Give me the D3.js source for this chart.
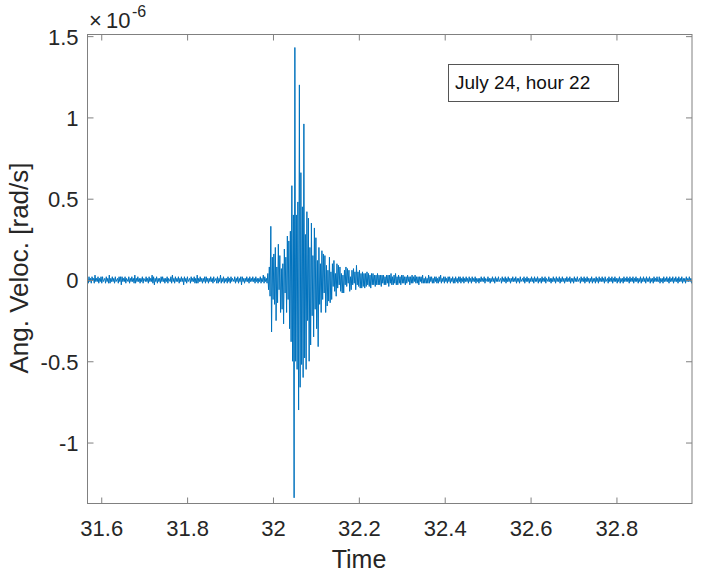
<!DOCTYPE html>
<html><head><meta charset="utf-8">
<script src="https://cdn.jsdelivr.net/npm/d3@7"></script>
<style>
body{margin:0;background:#fff}
svg text{font-family:"Liberation Sans",Arial,Helvetica,sans-serif;fill:#262626}
</style>
</head><body>
<svg id="chart" width="709" height="577"></svg>
<script>
// ---- data ----
const startTime = 31.568;          // time of first sample
const sampleInterval = 0.00175;    // time step between samples
// angular velocity samples, in units of 1e-8 rad/s
const preEvent = [
 1,-2,2,-1,1,-2,2,0,1,-2,3,-1,1,-1,2,-2,1,-1,2,-2,
 2,-1,0,1,-2,2,-1,1,-2,3,-2,1,-1,2,-1,1,-2,2,-1,0,
 1,-2,2,-1,2,-3,2,-1,1,-1,2,-2,1,0,-1,2,-2,1,-1,2,
 -1,1,-2,3,-2,1,-1,2,-1,1,-2,1,-1,2,-2,1,0,-1,2,-1,
 1,-2,2,-1,1,-1,3,-2,2,-3,1,-1,2,-2,1,-1,1,-2,2,-1,
 2,-1,1,-2,1,-1,2,-2,1,0,-1,2,-2,3,-1,1,-2,2,-1,1,
 -1,2,-2,1,-1,2,-1,1,-3,2,-1,1,-2,2,-1,0,1,-2,2,-1,
 1,-1,2,-2,1,-2,3,-2,1,-1,2,-1,1,-2,1,-1,2,-2,2,-1,
 1,-2,1,-1,2,-1,1,-2,2,-1,0,1,-2,2,-2,1,-1,3,-2,1,
 -1,2,-2,1,-1,1,-2,2,-1,1,-2,2,-1,1,0,-1,2,-2,1,-1,
 2,-2,1,-1,2,-3,2,-1,1,-2,1,-1,2,-1,1,-2,2,-1,1,-1,
 2,-1,1,-2,2,-1,1,-2,1,-1,2,-2,1,-1,3,-2,2,-1,1,-2
];
const eventPart = [
 4,-6,8,-10,33,-32,14,-12,16,-15,
 20,-25,8,-14,22,-6,15,-20,7,-18,
 10,-27,19,-8,14,-20,27,-12,24,-30,
 30,-38,58,-50,40,-134,143,-50,40,-55,
 48,-80,120,-66,66,-52,45,-60,96,-48,
 28,-55,42,-25,38,-50,20,-40,35,-22,
 15,-35,32,-18,26,-30,12,-41,20,-15,
 10,-20,18,-12,16,-8,15,-20,9,-16,
 6,-13,14,-14,5,-12,10,-4,12,-7,
 4,-10,10,-5,9,-3,8,-7,4,-8,
 3,-8,6,-3,8,-4,7,-2,6,-7,
 2,-6,6,-3,7,-2,5,-6,9,-3,
 5,-4,6,-5,4,-5,5,-4,4,-5,
 4,-4,5,-3,4,-4,3,-5,4,-3,
 4,-3,3,-4,3,-3,4,-3,3,-3,
 3,-4,3,-2,3,-3,2,-3,3,-2
];
const coda = [
 3,-4,3,-2,4,-3,2,-3,3,-2,4,-3,2,-3,3,-2,2,-3,3,-2,
 3,-2,2,-3,2,-2,3,-1,2,-3,2,-2,3,-2,2,-1,3,-2,2,-2,
 2,-3,2,-1,2,-2,3,-2,1,-2,2,-2,1,-2,3,-2,2,-1,2,-2,
 1,-2,2,-1,2,-2,1,-2,2,-1,3,-2,1,-1,2,-2,2,-1,1,-2,
 2,-1,2,-2,1,-1,2,-2,1,-2,2,-1,1,-2,2,-1,2,-2,1,-1,
 2,-2,1,-1,2,-1,1,-2,2,-1,1,-2,2,-1,1,-1,2,-2,1,-1
];
const postEvent = [
 1,-2,1,-1,2,-1,1,-1,2,-2,1,0,-1,2,-1,1,-2,1,-1,2,
 -1,1,-2,2,-1,1,-1,2,-1,0,1,-2,2,-1,1,-1,2,-2,1,-1,
 2,-1,1,-2,1,-1,2,-1,1,-1,2,-2,1,-1,1,-2,2,-1,0,1,
 -1,2,-2,1,-1,2,-1,1,-2,1,-1,2,-1,1,-2,2,-1,1,-1,2,
 -2,1,-1,1,-2,2,-1,1,-1,2,-2,1,0,-1,2,-1,1,-2,1,-1,
 2,-1,1,-2,2,-1,1,-1,2,-2,1,-1,2,-1,1,-2,1,-1,2,-1,
 1,-1,2,-2,1,-1,1,-2,2,-1,1,-1,2,-1,0,1,-2,2,-1,1,
 -1,2,-2,1,-1,2,-1,1,-2,1,-1,2,-2,1,-1,1,-2,2,-1,1,
 -2,2,-1,1,-1,2,-1,1,-2,2,-1,0,1,-2,2,-1,1,-1,2,-2,
 1,-1,2,-1,1,-2,1,-1,2,-2,1,-1,1,-2,2,-1,1,-1,2,-1,
 1,-2,2,-1,1,-1,2,-2,1,-1,2,-1,1,-2,1,-1,2,-2,1,-1,
 2,-1,1,-2,2,-1,1,-1,2,-2,1,-1,1,-2,2,-1,1,-1,2,-1,
 -1,2,-2,1,-1,1,-2,2,-1,1,-1,2,-1,1,-2,2,-1,1,-1,2,
 -2,1,-1,2,-1,1,-2,2,-1,1,-1,2,-2,1,-1,1,-2,2,-1,1,
 -1,2,-1,1,-2,1
];
const valueUnit = 1e-8;
const xTicks = [31.6, 31.8, 32, 32.2, 32.4, 32.6, 32.8];
const yTicks = [-1, -0.5, 0, 0.5, 1, 1.5];   // in 1e-6 rad/s
const xDomain = [31.568, 32.976];
const yDomain = [-1.375, 1.51];              // in 1e-6 rad/s
const xLabel = "Time";
const yLabel = "Ang. Veloc. [rad/s]";
const annotationText = "July 24, hour 22";

// ---- build series ----
const samples = [...preEvent, ...eventPart, ...coda, ...postEvent];
const series = samples.map((v, i) => ({t: startTime + i * sampleInterval, v: v * valueUnit / 1e-6}));

// ---- layout ----
const L = 87.5, R = 692, T = 34.5, B = 503.5;
const svg = d3.select("#chart");

const x = d3.scaleLinear().domain(xDomain).range([L, R]);
const y = d3.scaleLinear().domain(yDomain).range([B, T]);

svg.append("defs").append("clipPath").attr("id", "clip")
  .append("rect").attr("x", L).attr("y", T).attr("width", R - L).attr("height", B - T);

// signal
svg.append("path")
  .datum(series)
  .attr("clip-path", "url(#clip)")
  .attr("fill", "none")
  .attr("stroke", "#0072BD")
  .attr("stroke-width", 1)
  .attr("stroke-linejoin", "miter")
  .attr("d", d3.line().x(d => x(d.t)).y(d => y(d.v)));

const axisColor = "#808080";
const fmt = d => String(d);

// bottom axis
const gB = svg.append("g").attr("transform", `translate(0,${B})`)
  .call(d3.axisBottom(x).tickValues(xTicks).tickSizeInner(-6).tickSizeOuter(0).tickPadding(0).tickFormat(fmt));
gB.selectAll("text").attr("y", 32).attr("dy", 0).style("font-size", "22px");
// top axis
const gT = svg.append("g").attr("transform", `translate(0,${T})`)
  .call(d3.axisTop(x).tickValues(xTicks).tickSizeInner(-6).tickSizeOuter(0).tickFormat(""));
// left axis
const gL = svg.append("g").attr("transform", `translate(${L},0)`)
  .call(d3.axisLeft(y).tickValues(yTicks).tickSizeInner(-6).tickSizeOuter(0).tickPadding(0).tickFormat(fmt));
gL.selectAll("text").attr("x", -9).attr("dy", "0.36em").style("font-size", "22px");
// right axis
const gR = svg.append("g").attr("transform", `translate(${R},0)`)
  .call(d3.axisRight(y).tickValues(yTicks).tickSizeInner(-6).tickSizeOuter(0).tickFormat(""));

[gB, gT, gL, gR].forEach(g => {
  g.select(".domain").remove();
  g.selectAll("line").attr("stroke", axisColor);
  g.selectAll("text").attr("fill", "#262626").style("font-family", '"Liberation Sans",Arial,sans-serif');
});

// box
svg.append("rect").attr("x", L).attr("y", T).attr("width", R - L).attr("height", B - T)
  .attr("fill", "none").attr("stroke", axisColor).attr("stroke-width", 1);

// exponent label
svg.append("text").attr("x", 89).attr("y", 28).style("font-size", "22px").text("×");
svg.append("text").attr("x", 106).attr("y", 28).style("font-size", "22px").text("10");
svg.append("text").attr("x", 132).attr("y", 17).style("font-size", "16px").text("-6");

// axis labels
svg.append("text").attr("x", 359).attr("y", 568).attr("text-anchor", "middle")
  .style("font-size", "25px").text(xLabel);
svg.append("text").attr("transform", "translate(28,268) rotate(-90)").attr("text-anchor", "middle")
  .style("font-size", "26px").text(yLabel);

// annotation box
svg.append("rect").attr("x", 448.5).attr("y", 64.5).attr("width", 170).attr("height", 37)
  .attr("fill", "#fff").attr("stroke", "#555").attr("stroke-width", 1);
svg.append("text").attr("x", 455).attr("y", 89).style("font-size", "19px").style("fill", "#111")
  .text(annotationText);
</script>
</body></html>
